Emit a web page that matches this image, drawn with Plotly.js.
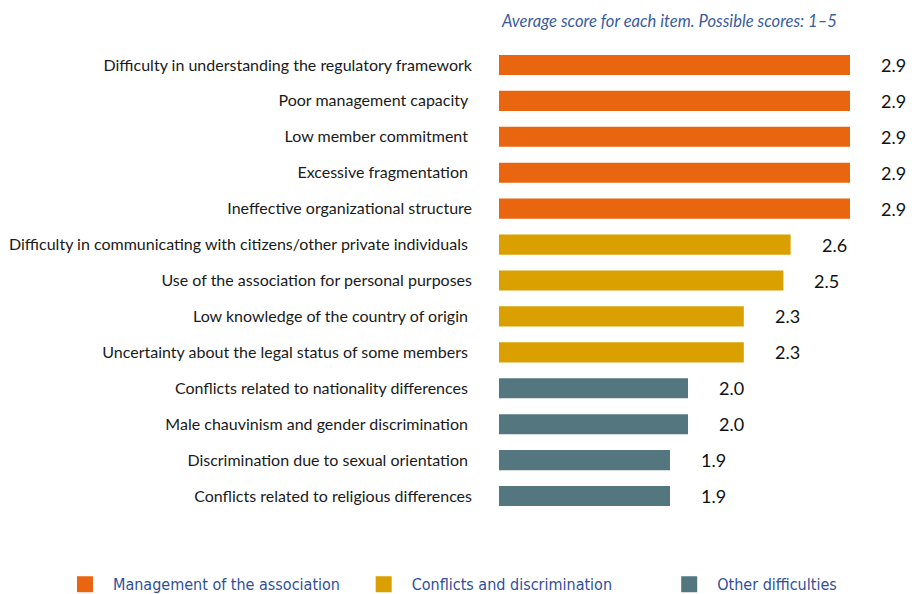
<!DOCTYPE html>
<html><head><meta charset="utf-8">
<script src="https://cdn.plot.ly/plotly-3.0.1.min.js"></script>
<style>html,body{margin:0;padding:0;background:#fff}</style>
</head><body>
<div id="chart" style="width:912px;height:594px"></div>
<script>
// Categories (top to bottom) and values
const mgmtCats = [
  "Difficulty in understanding the regulatory framework",
  "Poor management capacity\u00a0",
  "Low member commitment\u00a0",
  "Excessive fragmentation\u00a0",
  "Ineffective organizational structure"
];
const mgmtVals = [2.9, 2.9, 2.9, 2.9, 2.9];

const conflCats = [
  "Difficulty in communicating with citizens/other private individuals\u00a0",
  "Use of the association for personal purposes",
  "Low knowledge of the country of origin\u00a0",
  "Uncertainty about the legal status of some members\u00a0"
];
const conflVals = [2.57, 2.53, 2.31, 2.31];

const otherCats = [
  "Conflicts related to nationality differences\u00a0",
  "Male chauvinism and gender discrimination\u00a0",
  "Discrimination due to sexual orientation\u00a0",
  "Conflicts related to religious differences"
];
const otherVals = [2.0, 2.0, 1.9, 1.9];

const seriesNames = ["Management of the association", "Conflicts and discrimination", "Other difficulties"];
const colors = ["#E9650F", "#D9A000", "#53767F"];
const noteText = "Average score for each item. Possible scores: 1–5";

const groups = [[mgmtCats, mgmtVals], [conflCats, conflVals], [otherCats, otherVals]];
const allCats = [].concat(mgmtCats, conflCats, otherCats);
const legendIds = ['legend', 'legend2', 'legend3'];
const legendX = [0.0625, 0.390, 0.725];

const traces = [];
const annotations = [];
groups.forEach((g, i) => {
  traces.push({
    type: 'bar', orientation: 'h', y: g[0], x: g[1],
    marker: {color: colors[i]}, width: 0.56, showlegend: false,
    hoverinfo: 'x+y'
  });
  g[0].forEach((c, j) => {
    annotations.push({
      x: g[1][j], y: c, xref: 'x', yref: 'y', text: g[1][j].toFixed(1),
      showarrow: false, xanchor: 'left', xshift: 29,
      font: {family: 'Lato, sans-serif', size: 18, color: '#111'}
    });
  });
});
// legend entries
groups.forEach((g, i) => {
  traces.push({
    type: 'scatter', mode: 'markers', x: [null], y: [null], name: seriesNames[i],
    marker: {symbol: 'square', size: 20, color: colors[i]}, showlegend: true,
    legend: legendIds[i]
  });
});
annotations.push({
  xref: 'paper', yref: 'paper', x: 0, y: 1, xanchor: 'left', yanchor: 'bottom', yshift: 14,
  text: '<i>' + noteText + '</i>', showarrow: false,
  font: {family: 'Lato, sans-serif', size: 16.6, color: '#3A5C9E'}
});

const layout = {
  width: 912, height: 594,
  margin: {l: 499, r: 0, t: 47, b: 80},
  paper_bgcolor: '#fff', plot_bgcolor: '#fff',
  barmode: 'relative',
  showlegend: true,
  xaxis: {range: [0.95, 0.95 + 413 / 180], visible: false, fixedrange: true},
  yaxis: {
    type: 'category', categoryorder: 'array', categoryarray: allCats.slice().reverse(),
    autorange: false, range: [-0.5, 12.5],
    showgrid: false, zeroline: false, showline: false, ticks: '',
    ticklabelstandoff: 26,
    tickfont: {family: 'Lato, sans-serif', size: 16, color: '#1a1a1a'}
  },
  annotations: annotations
};
legendIds.forEach((id, i) => {
  layout[id] = {
    orientation: 'h', xref: 'container', yref: 'container',
    x: legendX[i], xanchor: 'left', y: 0.045, yanchor: 'top',
    itemsizing: 'trace', itemwidth: 46, bgcolor: 'rgba(0,0,0,0)',
    font: {family: '"Liberation Sans Narrow", "DejaVu Sans Condensed", sans-serif', size: 16, color: '#2F4F9A'}
  };
});
Plotly.newPlot('chart', traces, layout, {displayModeBar: false, staticPlot: true});
</script>
</body></html>
